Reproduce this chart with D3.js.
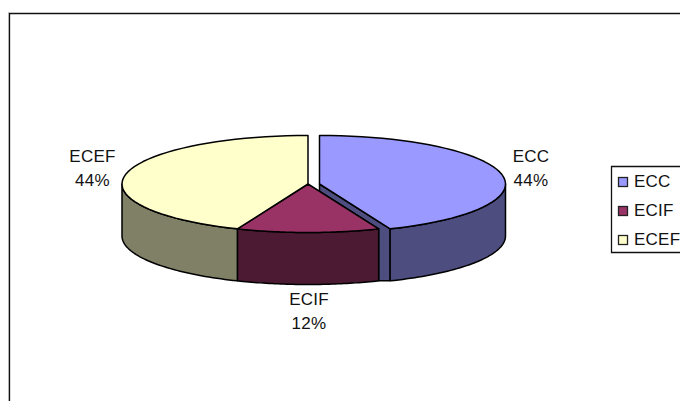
<!DOCTYPE html>
<html><head><meta charset="utf-8">
<script src="https://cdn.jsdelivr.net/npm/d3@7"></script>
<style>html,body{margin:0;padding:0;background:#fff}svg{display:block}text{font-family:"Liberation Sans",Arial,sans-serif;font-size:17px;letter-spacing:.25px;fill:#111}</style>
</head><body><div id="c"></div>
<script>
const categories = ["ECC","ECIF","ECEF"];
const values = [43.8,12.4,43.8];
const shares = ["44%","12%","44%"];
const topColors = ["#9999ff","#993366","#ffffcc"];
const sideColors = ["#4d4d80","#4d1a33","#808066"];

const W=680,H=401;
const svg=d3.select("#c").append("svg").attr("width",W).attr("height",H);
svg.append("rect").attr("x",8).attr("y",12).attr("width",1).attr("height",H-12).attr("fill","#d0d0d0");
svg.append("path").attr("d",`M9.5,${H}V13.5H${W}`).attr("fill","none").attr("stroke","#111").attr("stroke-width",1.3);

const rx=186, ry=48.5, depth=52;
const centers=[[319.5,184],[308,184],[308,184]];
const arcs=d3.pie().sort(null)(values);
const px=(c,a)=>c[0]+rx*Math.sin(a), py=(c,a)=>c[1]-ry*Math.cos(a);
const g=svg.append("g").attr("stroke","#000").attr("stroke-width",1.5).attr("stroke-linejoin","round");
function ell(c,a0,a1,dy=0,n=48){
  return d3.range(n+1).map(i=>{const a=a0+(a1-a0)*i/n;return [px(c,a),py(c,a)+dy];});
}
const line=d3.line();
// ECC inner wall, then outer walls
const eccEnd=arcs[0].endAngle, cifStart=arcs[1].startAngle;
const cifX=px(centers[1],cifStart), cifY=py(centers[1],cifStart);
const seam=centers[1][1]+(cifY-centers[1][1])*(centers[0][0]-centers[1][0])/(cifX-centers[1][0]);
g.append("path").attr("fill",sideColors[0]).attr("d",line([
  centers[0],[px(centers[0],eccEnd),py(centers[0],eccEnd)],
  [px(centers[0],eccEnd),py(centers[0],eccEnd)+depth],
  [cifX,cifY+depth],[cifX,cifY],[centers[0][0],seam]])+"Z");
arcs.forEach((d,i)=>{
  const c=centers[i];
  const a0=Math.max(d.startAngle,Math.PI/2), a1=Math.min(d.endAngle,3*Math.PI/2);
  const up=ell(c,a0,a1), down=ell(c,a0,a1,depth).reverse();
  g.append("path").attr("fill",sideColors[i]).attr("d",line(up.concat(down))+"Z");
});
arcs.forEach((d,i)=>{
  const c=centers[i];
  g.append("path").attr("fill",topColors[i]).attr("d",line([c].concat(ell(c,d.startAngle,d.endAngle)))+"Z");
});

const labelPos=[[531,162],[309,305],[92.5,162]];
const labels=svg.append("g").attr("text-anchor","middle");
categories.forEach((name,i)=>{
  const t=labels.append("text").attr("x",labelPos[i][0]).attr("y",labelPos[i][1]);
  t.append("tspan").attr("x",labelPos[i][0]).text(name);
  t.append("tspan").attr("x",labelPos[i][0]).attr("dy",24).text(shares[i]);
});

const leg=svg.append("g");
leg.append("path").attr("d",`M${W},166.5H611.5V252.5H${W}`).attr("fill","#fff").attr("stroke","#111").attr("stroke-width",1.3);
const ly=d3.scalePoint().domain(categories).range([182,240]);
categories.forEach((name,i)=>{
  leg.append("rect").attr("x",618.5).attr("y",ly(name)-4.5).attr("width",9).attr("height",9).attr("fill",topColors[i]).attr("stroke","#222").attr("stroke-width",1.3);
  leg.append("text").attr("x",634).attr("y",ly(name)+5).text(name);
});
</script></body></html>
